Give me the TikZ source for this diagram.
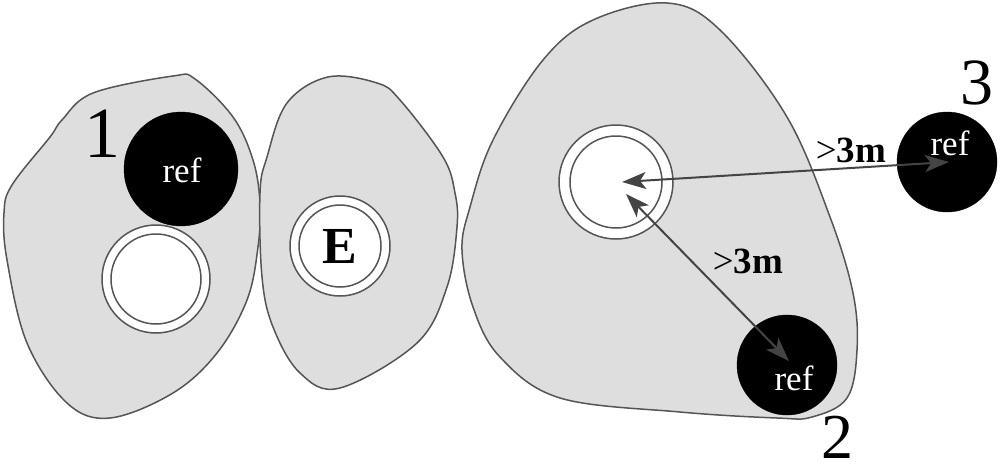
\documentclass[tikz,border=0pt]{standalone}
\usepackage{fontspec}
\setmainfont{Liberation Serif}
\usetikzlibrary{arrows.meta}
\definecolor{blobfill}{HTML}{DEDEDE}
\definecolor{edge}{HTML}{555555}
\definecolor{arrowc}{HTML}{444444}
\tikzset{
  blob/.style={fill=blobfill, draw=edge, line width=1.5pt},
  ringo/.style={circle, fill=white, draw=edge, line width=1.5pt, inner sep=0pt},
  refc/.style={circle, fill=black, draw=black, inner sep=0pt},
  reftext/.style={text=white, font=\fontsize{35}{35}\selectfont, inner sep=0pt},
  dist/.style={font=\fontsize{37}{37}\selectfont, inner sep=0pt},
  arr/.style={draw=arrowc, line width=2pt, {Stealth[length=24pt,width=17pt,inset=6pt]}-{Stealth[length=24pt,width=17pt,inset=6pt]}},
}
\begin{document}
\begin{tikzpicture}[x=1pt,y=-1pt]
\useasboundingbox (0,0) rectangle (1000,471);
% blobs
\draw[blob] plot[smooth cycle, tension=0.6] coordinates {(93,93) (173,76) (195,79) (233,117) (253,160) (260,203) (258,247) (247,300) (217,353) (173,393) (110,418) (67,403) (27,343) (7,260) (4,213) (12,185) (50,137) (62,120)};
\draw[blob] plot[smooth cycle, tension=0.6] coordinates {(328,77) (377,83) (400,100) (443,157) (455,193) (457,227) (447,287) (417,343) (340,388) (300,373) (273,327) (262,277) (260,193) (267,157) (287,103)};
\draw[blob] plot[smooth cycle, tension=0.6] coordinates {(667,3) (720,30) (787,117) (830,217) (853,293) (857,350) (847,398) (812,417) (777,418) (680,412) (560,398) (500,357) (473,307) (462,250) (470,207) (493,140) (543,60) (593,20)};
% rings
\node[ringo, minimum size=108pt] (w1) at (156,279) {};
\node[ringo, minimum size=90pt] (w1i) at (156,279) {};
\node[ringo, minimum size=100pt] (we) at (340,246) {};
\node[ringo, minimum size=82pt, font=\bfseries\fontsize{52}{52}\selectfont] (wei) at (340,246) {E};
\node[ringo, minimum size=114pt] (w2) at (616,182) {};
\node[ringo, minimum size=92pt] (w2i) at (616,182) {};
% reference points
\node[refc, minimum size=114pt] (r1) at (181,169) {};
\node[reftext] (t1) at (182,170) {ref};
\node[refc, minimum size=100pt] (r2) at (787,365) {};
\node[reftext] (t2) at (794,378) {ref};
\node[refc, minimum size=100pt] (r3) at (947,162) {};
\node[reftext] (t3) at (950,143) {ref};
% numbers
\node[font=\fontsize{72}{72}\selectfont, inner sep=0pt] (n1) at (102,134) {1};
\node[font=\fontsize{64}{64}\selectfont, inner sep=0pt] (n2) at (837,437) {2};
\node[font=\fontsize{66}{66}\selectfont, inner sep=0pt] (n3) at (977,83) {3};
% arrows
\coordinate (c1) at (622,182);
\coordinate (c2) at (626,194);
\coordinate (e3) at (949,162);
\coordinate (e2) at (789,361);
\draw[arr] (c1) -- (e3);
\draw[arr] (c2) -- (e2);
\node[dist] (d1) at (851,150) {>\textbf{3m}};
\node[dist] (d2) at (748,261) {>\textbf{3m}};
\end{tikzpicture}
\end{document}
